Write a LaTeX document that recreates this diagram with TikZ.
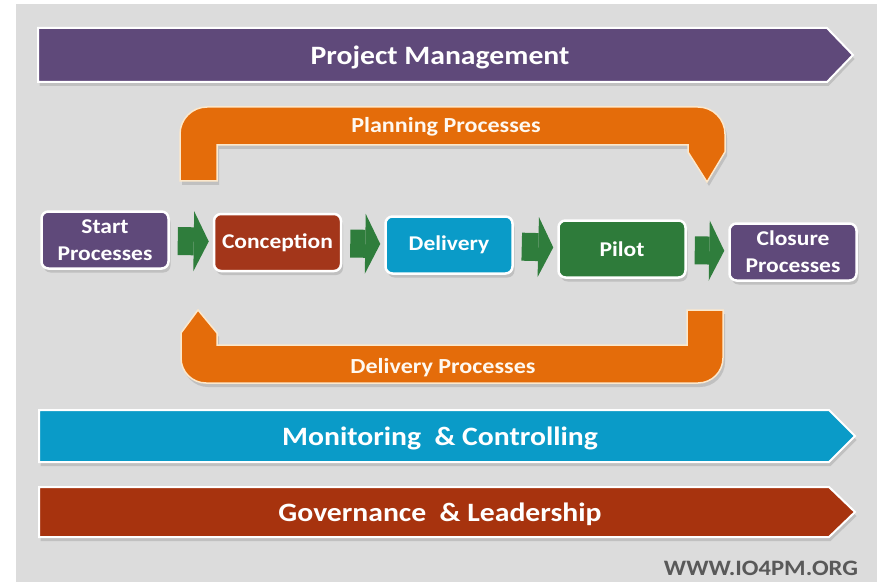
\documentclass[tikz,border=0pt]{standalone}
\usepackage{fontspec}
\setmainfont{Carlito}[FakeStretch=1.12]
\usetikzlibrary{arrows.meta, shadows}
\definecolor{pmpurple}{HTML}{5F497A}
\definecolor{planorange}{HTML}{E46C0A}
\definecolor{monblue}{HTML}{0A9BC8}
\definecolor{govred}{HTML}{A7330E}
\definecolor{conred}{HTML}{A3361A}
\definecolor{pilotgreen}{HTML}{2E7B3A}
\definecolor{flowgreen}{HTML}{2F7D3C}
\definecolor{bggray}{HTML}{DCDCDC}
\definecolor{rimcream}{HTML}{FCE8CC}
\definecolor{urlgray}{HTML}{595959}

\begin{document}
\begin{tikzpicture}[x=1pt, y=1pt,
    band/.style={draw=white, line width=2pt,
                 drop shadow={shadow xshift=1.5pt, shadow yshift=-4pt, opacity=0.3}},
    bandtext/.style={anchor=base, text=white, font=\fontsize{26.5}{30}\selectfont\bfseries},
    bracket/.style={fill=planorange, draw=rimcream, line width=1.5pt,
                    drop shadow={shadow xshift=2pt, shadow yshift=-4pt, opacity=0.3}},
    brackettext/.style={anchor=base, text=rimcream!30!white, font=\fontsize{21.5}{24}\selectfont\bfseries},
    box/.style={draw=white, line width=2.5pt, rounded corners=7pt,
                minimum width=127pt, minimum height=57pt, inner sep=2pt,
                align=center, text=white, font=\fontsize{21}{27}\selectfont\bfseries,
                drop shadow={shadow xshift=2pt, shadow yshift=-4pt, opacity=0.3}},
    flow/.style={draw=flowgreen, line width=28pt, shorten <=8pt, shorten >=4pt,
                 -{Triangle[length=15pt, width=60pt, line width=0pt]}}
  ]
  % background
  \fill[white] (0,0) rectangle (877,582);
  \fill[bggray] (16,0) rectangle (877,578);
  \useasboundingbox (0,0) rectangle (877,582);

  % bands
  \path[band, fill=pmpurple] (38,500) -- (827,500) -- (853,527) -- (827,554) -- (38,554) -- cycle;
  \path[band, fill=monblue] (39,120) -- (829,120) -- (855,146) -- (829,172) -- (39,172) -- cycle;
  \path[band, fill=govred] (39,45) -- (829,45) -- (855,70) -- (829,95) -- (39,95) -- cycle;
  \node[bandtext] (pm) at (440,517) {Project Management};
  \node[bandtext] (mc) at (440,137) {Monitoring~~\& Controlling};
  \node[bandtext] (gl) at (440,61) {Governance~~\& Leadership};

  % planning and delivery loops
  \path[bracket] (180,401) -- (180,448) arc[start angle=180, end angle=90, radius=27]
    -- (698,475) arc[start angle=90, end angle=0, radius=27]
    -- (725,430) -- (707,400) -- (688,430) -- (688,437) -- (217,437) -- (217,401) -- cycle;
  \path[bracket] (198,272) -- (217,249) -- (217,237) -- (687,237) -- (687,272) -- (723,272)
    -- (723,224) arc[start angle=0, end angle=-90, radius=25]
    -- (206,199) arc[start angle=270, end angle=180, radius=25] -- (181,249) -- cycle;
  \node[brackettext] (plan) at (446,449) {Planning Processes};
  \node[brackettext] (deliv) at (443,209) {Delivery Processes};

  % process row
  \node[box, fill=pmpurple] (start) at (105,342) {Start\\Processes};
  \node[box, fill=conred] (conc) at (277.5,339.5) {Conception};
  \node[box, fill=monblue] (dlv) at (449,337) {Delivery};
  \node[box, fill=pilotgreen] (pilot) at (622,333) {Pilot};
  \node[box, fill=pmpurple] (close) at (793,330) {Closure\\Processes};

  \draw[flow] (start) -- (conc);
  \draw[flow] (conc) -- (dlv);
  \draw[flow] (dlv) -- (pilot);
  \draw[flow] (pilot) -- (close);

  \node[anchor=base, text=urlgray, font=\fontsize{22}{24}\selectfont\bfseries] (url) at (761,7) {WWW.IO4PM.ORG};
\end{tikzpicture}
\end{document}
